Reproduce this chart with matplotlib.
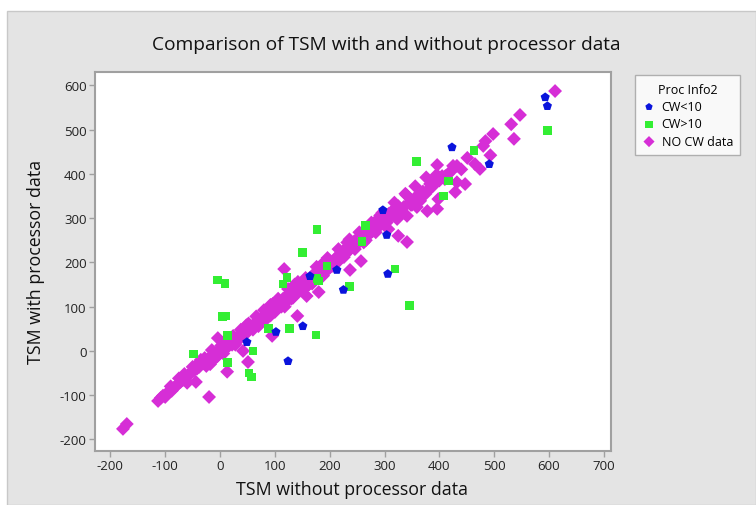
import matplotlib
matplotlib.use("Agg")
import matplotlib.pyplot as plt
from matplotlib.patches import Rectangle

# CW<10 (blue)
cw_lt10_x = [593, 597, 423, 491, 297, 304, 213, 225, 306, 164, 151, 102, 49, 124]
cw_lt10_y = [573, 553, 460, 422, 318, 262, 183, 138, 174, 169, 56, 43, 20, -23]

# CW>10 (green)
cw_gt10_x = [597, 463, 359, 407, 416, 266, 259, 177, 151, 195, 319, 236, 345, 179, 122, 115,
             -5, 9, 4, 11, -49, 13, 13, 53, 57, 60, 88, 126, 175, 177]
cw_gt10_y = [497, 453, 427, 350, 384, 283, 248, 275, 223, 192, 185, 145, 102, 158, 165, 151,
             160, 153, 77, 79, -7, 34, -27, -50, -59, 0, 50, 50, 36, 163]

# NO CW data (magenta)
nocw_x = [-177, -170, -113, -108, -104, -100, -95, -88, -85, -82, -78, -72, -68, -63, -60, -55,
          -52, -48, -44, -42, -38, -35, -30, -27, -22, -20, -18, -15, -12, -8, -5, -4, -2, 0,
          3, 5, 8, 10, 12, 13, 15, 18, 20, 22, 25, 28, 30, 32, 35, 38, 40, 42, 44, 47, 50, 51,
          53, 55, 58, 60, 63, 65, 68, 70, 72, 75, 78, 80, 83, 85, 88, 90, 92, 95, 95, 98, 100,
          103, 105, 108, 110, 113, 115, 117, 118, 120, 123, 125, 128, 130, 133, 135, 138, 141,
          141, 145, 148, 150, 152, 155, 158, 160, 162, 165, 168, 170, 173, 175, 178, 180, 182,
          185, 188, 190, 193, 195, 198, 200, 203, 205, 208, 210, 213, 215, 218, 220, 223, 225,
          228, 230, 233, 235, 237, 238, 240, 243, 245, 248, 250, 253, 255, 257, 258, 260, 263,
          265, 268, 270, 273, 275, 278, 279, 282, 285, 288, 290, 293, 295, 298, 300, 303, 307,
          308, 310, 313, 323, 325, 325, 330, 335, 341, 341, 345, 350, 355, 359, 360, 365, 370,
          375, 378, 378, 383, 385, 390, 396, 396, 398, 400, 405, 411, 416, 420, 425, 429, 432,
          432, 440, 447, 451, 465, 474, 480, 484, 493, 498, 531, 536, 547, 611,
          -90, -75, -65, -50, -40, -28, -25, -10, -15, 2, 6, 16, 24, 30, 38, 45, 52, 60, 66, 74,
          80, 86, 92, 100, 106, 112, 124, 130, 136, 150, 156, 168, 176, 188, 196, 206, 216,
          226, 236, 246, 254, 266, 276, 284, 296, 304, 318, 328, 338, 348, 356, 366, 376, 388,
          -60, -35, -18, 8, 28, 48, 70, 96, 118, 142, 162, 186, 210, 232, 262, 292, 315, 340,
          362, 395, 410]
nocw_y = [-176, -165, -113, -106, -101, -104, -93, -90, -84, -81, -77, -70, -66, -63, -57, -52,
          -47, -45, -70, -40, -36, -30, -28, -22, -20, -104, -14, -10, -8, -5, -12, 29, 0, 3,
          -2, 8, 5, 12, 15, -47, 10, 18, 22, 14, 25, 28, 22, 30, 35, 33, 38, 0, 42, 45, 44, -25,
          50, 52, 55, 58, 56, 62, 65, 68, 62, 72, 75, 70, 82, 78, 85, 88, 80, 34, 92, 95, 100,
          97, 105, 110, 102, 112, 118, 185, 108, 122, 115, 128, 125, 132, 120, 138, 130, 79,
          140, 135, 145, 150, 140, 155, 124, 160, 150, 165, 158, 172, 165, 178, 170, 133, 180,
          175, 185, 178, 190, 182, 195, 188, 200, 195, 205, 198, 210, 215, 205, 220, 212, 225,
          218, 232, 225, 238, 183, 230, 242, 235, 248, 240, 252, 245, 258, 203, 250, 262, 255,
          268, 260, 272, 265, 278, 270, 282, 285, 278, 298, 290, 285, 300, 292, 305, 298, 275,
          310, 302, 315, 298, 327, 260, 318, 325, 305, 246, 335, 330, 345, 325, 350, 339, 360,
          355, 361, 316, 377, 370, 380, 420, 321, 343, 385, 395, 395, 400, 404, 418, 359, 381,
          418, 410, 377, 436, 422, 411, 463, 474, 442, 490, 512, 479, 533, 587,
          -80, -62, -52, -36, -28, -16, -34, -18, 2, 12, -6, 24, 34, 20, 48, 36, 62, 48, 78, 64,
          92, 74, 104, 88, 118, 100, 140, 118, 150, 142, 165, 152, 190, 170, 210, 192, 230,
          212, 252, 230, 268, 250, 290, 268, 312, 290, 335, 312, 355, 330, 372, 348, 392, 372,
          -72, -20, -30, 20, 14, 58, 56, 106, 100, 156, 150, 196, 196, 245, 245, 306, 308, 352,
          345, 398, 388]

x_ticks = [-200, -100, 0, 100, 200, 300, 400, 500, 600, 700]
y_ticks = [-200, -100, 0, 100, 200, 300, 400, 500, 600]

plt.rcParams['font.family'] = ['Open Sans', 'DejaVu Sans']
plt.rcParams['axes.unicode_minus'] = False

fig = plt.figure(figsize=(7.56, 5.06), dpi=100)
fig.patch.set_facecolor('white')
bg = Rectangle((7/756, 0), 1 - 7/756, 1 - 12/506, transform=fig.transFigure,
               facecolor='#e4e4e4', edgecolor='#c8c8c8', linewidth=1, zorder=-10)
fig.patches.append(bg)

ax = fig.add_axes([95/756, 1 - 452/506, (611 - 95)/756, (452 - 73)/506])
ax.set_facecolor('white')

ax.scatter(nocw_x, nocw_y, marker='D', s=50, color='#d62ed6', edgecolors='none', label='NO CW data', zorder=2)
ax.scatter(cw_gt10_x, cw_gt10_y, marker='s', s=40, color='#33ee33', edgecolors='none', label='CW>10', zorder=3)
ax.scatter(cw_lt10_x, cw_lt10_y, marker='p', s=48, color='#0a14dc', edgecolors='none', label='CW<10', zorder=4)

ax.set_xlim(-228, 713)
ax.set_ylim(-226, 630)
ax.set_xticks(x_ticks)
ax.set_yticks(y_ticks)
ax.tick_params(axis='both', direction='out', length=4, width=1, color='#a0a0a0',
               labelsize=9.5, labelcolor='#222222', pad=2)
for sp in ax.spines.values():
    sp.set_color('#a0a0a0')
    sp.set_linewidth(1.5)

fig.text(386/756, 1 - 45/506, 'Comparison of TSM with and without processor data',
         ha='center', va='center', fontsize=13.8, color='#111111')
fig.text(352/756, 1 - 490/506, 'TSM without processor data', ha='center', va='center',
         fontsize=12.8, color='#111111')
fig.text(36/756, 1 - 262/506, 'TSM with processor data', ha='center', va='center',
         rotation=90, fontsize=12.8, color='#111111')

h, l = ax.get_legend_handles_labels()
order = [2, 1, 0]
leg = fig.legend([h[i] for i in order], [l[i] for i in order], title='Proc Info2',
                 loc='upper left', bbox_to_anchor=(629/756, 1 - 70/506),
                 fontsize=9, title_fontsize=9, frameon=True, fancybox=False,
                 edgecolor='#a0a0a0', handletextpad=0.5, borderpad=0.6,
                 labelspacing=0.35, handlelength=1.0, markerscale=0.8)
leg.get_frame().set_linewidth(1)

fig.savefig('out.png', dpi=100)
